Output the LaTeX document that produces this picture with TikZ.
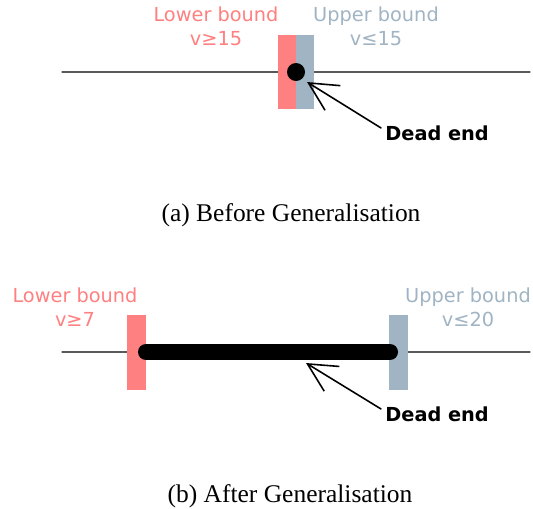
\documentclass[tikz,border=0pt]{standalone}
\usepackage{fontspec}
\setmainfont{Liberation Serif}
\newfontfamily\labelfont{DejaVu Sans}
\usetikzlibrary{arrows.meta}
\definecolor{lowred}{RGB}{255,128,128}
\definecolor{upblue}{RGB}{160,180,195}

\begin{document}
\begin{tikzpicture}[x=0.02cm,y=-0.02cm,line join=round,line cap=round,
		axis/.style={black!65,line width=0.6pt},
		bound/.style={font=\labelfont\fontsize{11}{13.4}\selectfont,align=center,anchor=base,inner sep=0pt},
		deadlabel/.style={font=\labelfont\bfseries\fontsize{11}{13.4}\selectfont,anchor=base west,inner sep=0pt},
		pointer/.style={line width=0.9pt,-{Straight Barb[length=0.57cm,width=0.58cm]}},
		caption/.style={font=\fontsize{14.5}{17}\selectfont,anchor=base,inner sep=0pt}]
	\useasboundingbox (0,0) rectangle (533,508);
	% (a) bounds meet in one point
	\draw[axis] (62,72) -- (530,72);
	\fill[lowred] (278,35) rectangle (296,109);
	\fill[upblue] (296,35) rectangle (314,109);
	\fill (296,72) circle (0.18cm);
	\node[bound,text=lowred] (lowA) at (216,45) {Lower bound\\v≥15};
	\node[bound,text=upblue] (upA) at (376,45) {Upper bound\\v≤15};
	\node[deadlabel] (deadA) at (385,140) {Dead end};
	\coordinate (tipA) at (307,82);
	\draw[pointer] ([shift={(-4,3)}]deadA.north west) -- (tipA);
	\node[caption] (capA) at (291,221) {(a) Before Generalisation};
	% (b) widened interval
	\draw[axis] (62,352) -- (530,352);
	\fill[lowred] (127,315) rectangle (146,390);
	\fill[upblue] (389,315) rectangle (408,390);
	\draw[line width=0.32cm] (146,352) -- (390,352);
	\node[bound,text=lowred] (lowB) at (75,326) {Lower bound\\v≥7};
	\node[bound,text=upblue] (upB) at (468,326) {Upper bound\\v≤20};
	\node[deadlabel] (deadB) at (385,421) {Dead end};
	\coordinate (tipB) at (306,363);
	\draw[pointer] ([shift={(-4,3)}]deadB.north west) -- (tipB);
	\node[caption] (capB) at (290,502) {(b) After Generalisation};
\end{tikzpicture}
\end{document}
